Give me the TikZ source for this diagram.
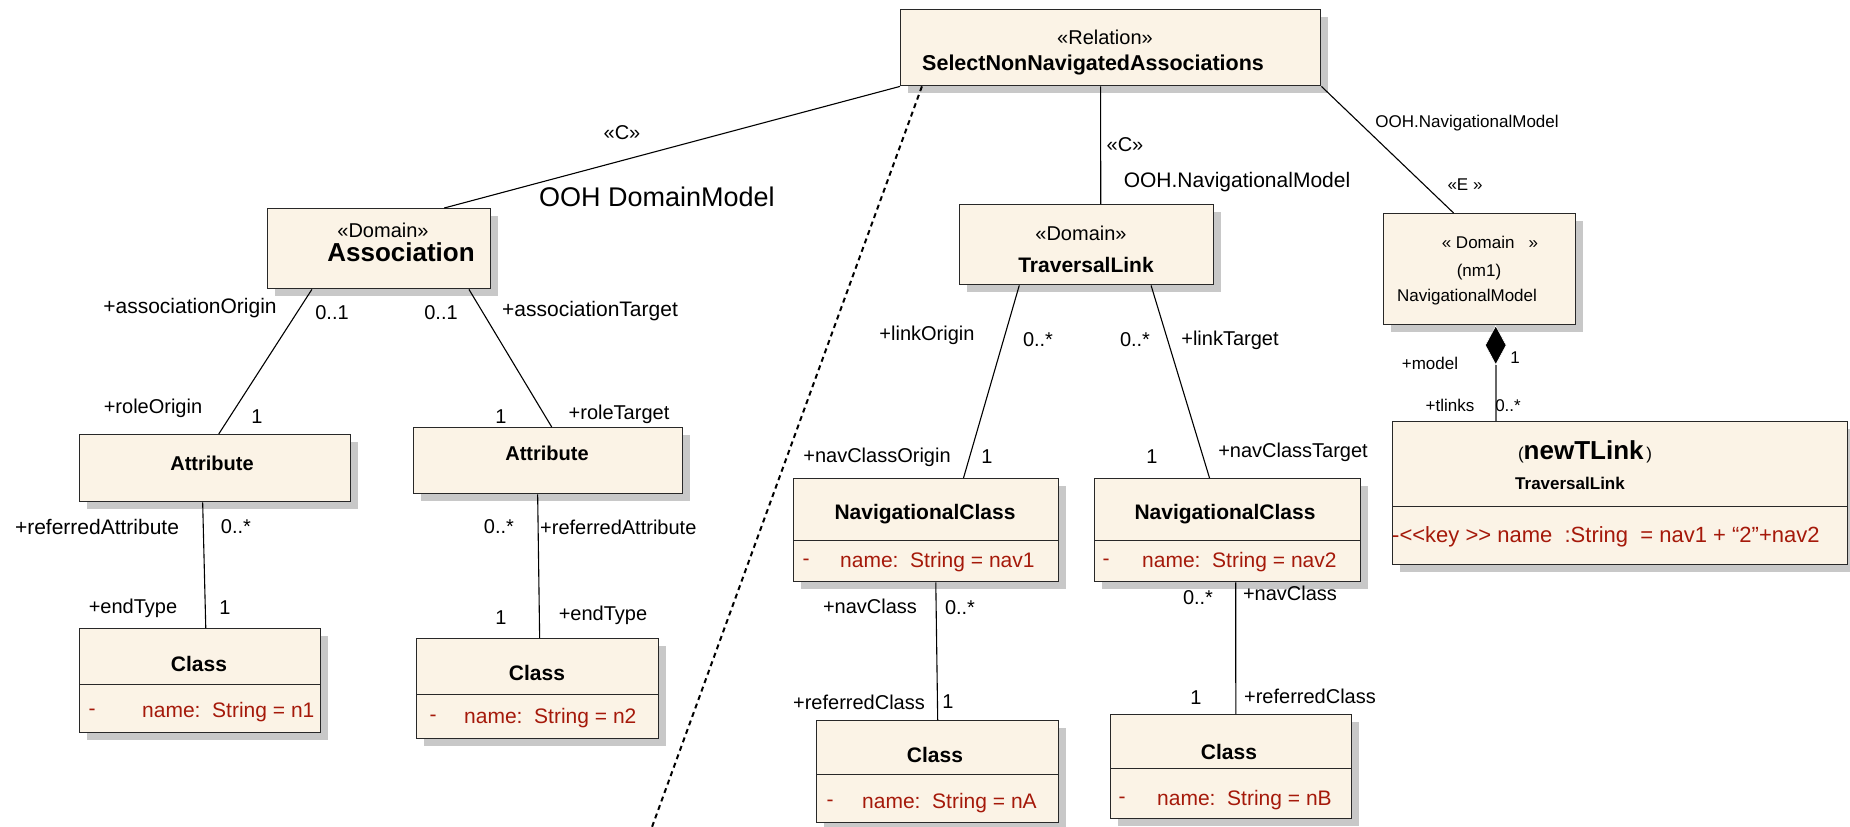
\documentclass[tikz,border=0pt]{standalone}
\usepackage{fontspec}
\setmainfont{Liberation Sans}
\usetikzlibrary{calc,shapes.geometric,shadows}
\definecolor{boxfill}{RGB}{251,243,230}
\definecolor{shade}{RGB}{200,200,200}
\definecolor{attrred}{RGB}{165,25,10}
\definecolor{edgecol}{RGB}{40,40,40}
\newcommand{\fs}[1]{\fontsize{#1}{#1}\selectfont}
\tikzset{
  umlbox/.style={draw=edgecol, line width=1.4pt, fill=boxfill, inner sep=0pt, anchor=north west,
    drop shadow={shadow xshift=7pt, shadow yshift=-7pt, fill=shade, opacity=1}},
  divider/.style={draw=edgecol, line width=1pt},
  conn/.style={draw=black, line width=1.1pt},
  lbl/.style={inner sep=0pt, font=\fs{20}},
  slbl/.style={inner sep=0pt, font=\fs{17}},
  ttl/.style={inner sep=0pt, font=\bfseries\fs{21}},
  stereo/.style={inner sep=0pt, font=\fs{20}},
  attrtext/.style={inner sep=0pt, font=\fs{21}, text=attrred},
  attrw/.style={inner sep=0pt, font=\fs{21}, text=attrred, anchor=west},
  dashconn/.style={draw=black, line width=2pt, dash pattern=on 5pt off 4pt},
}
\begin{document}
\begin{tikzpicture}[x=1pt,y=-1pt]
\useasboundingbox (0,0) rectangle (1850,827);

% ---------- boxes ----------
\node[umlbox, minimum width=420pt, minimum height=76pt] (rel) at (900,9) {};
\node[umlbox, minimum width=223pt, minimum height=80pt] (assoc) at (267,208) {};
\node[umlbox, minimum width=271pt, minimum height=67pt] (attrL) at (79,434) {};
\node[umlbox, minimum width=269pt, minimum height=66pt] (attrR) at (413,427) {};
\node[umlbox, minimum width=241pt, minimum height=104pt] (clsL) at (79,628) {};
\node[umlbox, minimum width=242pt, minimum height=100pt] (clsR) at (416,638) {};
\node[umlbox, minimum width=254pt, minimum height=80pt] (tl) at (959,204) {};
\node[umlbox, minimum width=265pt, minimum height=103pt] (ncL) at (793,478) {};
\node[umlbox, minimum width=266pt, minimum height=103pt] (ncR) at (1094,478) {};
\node[umlbox, minimum width=242pt, minimum height=102pt] (clsA) at (816,720) {};
\node[umlbox, minimum width=241pt, minimum height=104pt] (clsB) at (1110,714) {};
\node[umlbox, minimum width=192pt, minimum height=111pt] (nm) at (1383,213) {};
\node[umlbox, minimum width=455pt, minimum height=143pt] (newT) at (1392,421) {};

% dividers
\draw[divider] (clsL.west |- 0,684) -- (clsL.east |- 0,684);
\draw[divider] (clsR.west |- 0,694) -- (clsR.east |- 0,694);
\draw[divider] (ncL.west |- 0,540) -- (ncL.east |- 0,540);
\draw[divider] (ncR.west |- 0,540) -- (ncR.east |- 0,540);
\draw[divider] (clsA.west |- 0,774) -- (clsA.east |- 0,774);
\draw[divider] (clsB.west |- 0,768) -- (clsB.east |- 0,768);
\draw[divider] (newT.west |- 0,506) -- (newT.east |- 0,506);

% ---------- box texts ----------
\node[stereo] (relS) at (1105,37) {«Relation»};
\node[inner sep=0pt, font=\bfseries\fs{21.5}, anchor=west] (relN) at (922,65) {SelectNonNavigatedAssociations};
\node[stereo] (assocS) at (383,230) {«Domain»};
\node[inner sep=0pt, font=\bfseries\fs{26}] (assocN) at (401,252) {Association};
\node[inner sep=0pt, font=\bfseries\fs{20}] (attrLN) at (212,463) {Attribute};
\node[inner sep=0pt, font=\bfseries\fs{20}] (attrRN) at (547,453) {Attribute};
\node[ttl] (clsLN) at (199,664) {Class};
\node[attrtext] (clsLd) at (92,712) {-};
\node[attrw] (clsLa) at (142,712) {name:\ \ String = n1};
\node[ttl] (clsRN) at (537,673) {Class};
\node[attrtext] (clsRd) at (433,718) {-};
\node[attrw] (clsRa) at (464,718) {name:\ \ String = n2};
\node[stereo] (tlS) at (1081,233) {«Domain»};
\node[ttl] (tlN) at (1086,265) {TraversalLink};
\node[ttl] (ncLN) at (925,514) {NavigationalClass};
\node[attrtext] (ncLd) at (806,562) {-};
\node[attrw] (ncLa) at (840,562) {name:\ \ String = nav1};
\node[ttl] (ncRN) at (1225,514) {NavigationalClass};
\node[attrtext] (ncRd) at (1106,562) {-};
\node[attrw] (ncRa) at (1142,562) {name:\ \ String = nav2};
\node[ttl] (clsAN) at (935,755) {Class};
\node[attrtext] (clsAd) at (830,803) {-};
\node[attrw] (clsAa) at (862,803) {name:\ \ String = nA};
\node[ttl] (clsBN) at (1229,752) {Class};
\node[attrtext] (clsBd) at (1122,800) {-};
\node[attrw] (clsBa) at (1157,800) {name:\ \ String = nB};
\node[slbl] (nmS) at (1490,242) {« Domain \ \ »};
\node[slbl] (nmI) at (1479,272) {(nm1)};
\node[slbl] (nmN) at (1467,297) {NavigationalModel};
\node[inner sep=0pt] (newTN) at (1585,452) {{\fs{17}(}{\bfseries\fs{26}newTLink}\ {\fs{17})}};
\node[inner sep=0pt, font=\bfseries\fs{17}] (newTT) at (1570,483) {TraversalLink};
\node[inner sep=0pt, font=\fs{22}, text=attrred, anchor=west] (newTa) at (1392,537) {-{<}{<}key {>}{>} name \ :String \ = nav1 + “2”+nav2};

% ---------- connectors ----------
\draw[conn] (rel.south west) -- ($(assoc.north west)!0.79!(assoc.north east)$);
\coordinate (dashEnd) at (652,827);
\draw[dashconn] ($(rel.south west)!0.052!(rel.south east)$) -- (dashEnd);
\draw[conn] ($(rel.south west)!0.476!(rel.south east)$) -- ($(tl.north west)!0.555!(tl.north east)$);
\draw[conn] (rel.south east) -- ($(nm.north west)!0.365!(nm.north east)$);
\draw[conn] ($(assoc.south west)!0.2!(assoc.south east)$) -- ($(attrL.north west)!0.513!(attrL.north east)$);
\draw[conn] ($(assoc.south west)!0.9!(assoc.south east)$) -- ($(attrR.north west)!0.513!(attrR.north east)$);
\draw[conn] ($(attrL.south west)!0.454!(attrL.south east)$) -- ($(clsL.north west)!0.523!(clsL.north east)$);
\draw[conn] ($(attrR.south west)!0.461!(attrR.south east)$) -- ($(clsR.north west)!0.508!(clsR.north east)$);
\draw[conn] ($(tl.south west)!0.236!(tl.south east)$) -- ($(ncL.north west)!0.64!(ncL.north east)$);
\draw[conn] ($(tl.south west)!0.752!(tl.south east)$) -- ($(ncR.north west)!0.432!(ncR.north east)$);
\draw[conn] ($(ncL.south west)!0.536!(ncL.south east)$) -- ($(clsA.north west)!0.5!(clsA.north east)$);
\draw[conn] ($(ncR.south west)!0.53!(ncR.south east)$) -- ($(clsB.north west)!0.519!(clsB.north east)$);
\coordinate (diamTop) at ($(nm.south west)!0.583!(nm.south east)$);
\node[diamond, fill=black, draw=white, line width=0.6pt, inner sep=0pt, minimum width=21pt, minimum height=39pt, anchor=north] (diam) at (diamTop) {};
\draw[draw=black!60, line width=1.6pt] (diam.south) -- (diam.south |- newT.north);

% ---------- labels ----------
\node[lbl] (l1) at (622,133) {«C»};
\node[inner sep=0pt, font=\fs{27}] (l2) at (657,197) {OOH DomainModel};
\node[lbl] (l3) at (1125,145) {«C»};
\node[inner sep=0pt, font=\fs{21}] (l4) at (1237,182) {OOH.NavigationalModel};
\node[slbl] (l5) at (1467,123) {OOH.NavigationalModel};
\node[slbl] (l6) at (1465,185) {«E »};

\node[inner sep=0pt, font=\fs{21}] (a1) at (190,308) {+associationOrigin};
\node[lbl] (a2) at (332,313) {0..1};
\node[lbl] (a3) at (441,313) {0..1};
\node[inner sep=0pt, font=\fs{21}] (a4) at (590,311) {+associationTarget};
\node[lbl] (a5) at (153,408) {+roleOrigin};
\node[lbl] (a6) at (257,417) {1};
\node[lbl] (a7) at (501,417) {1};
\node[lbl] (a8) at (619,414) {+roleTarget};
\node[inner sep=0pt, font=\fs{21}] (a9) at (97,527) {+referredAttribute};
\node[lbl] (a10) at (236,527) {0..*};
\node[lbl] (a11) at (499,527) {0..*};
\node[lbl, anchor=west] (a12) at (540,527) {+referredAttribute};
\node[lbl] (a13) at (133,608) {+endType};
\node[lbl] (a14) at (225,608) {1};
\node[lbl] (a15) at (501,618) {1};
\node[lbl] (a16) at (603,615) {+endType};

\node[lbl] (b1) at (927,335) {+linkOrigin};
\node[lbl] (b2) at (1038,340) {0..*};
\node[lbl] (b3) at (1135,340) {0..*};
\node[lbl] (b4) at (1230,340) {+linkTarget};
\node[lbl] (b5) at (877,457) {+navClassOrigin};
\node[lbl] (b6) at (987,457) {1};
\node[lbl] (b7) at (1152,457) {1};
\node[lbl] (b8) at (1293,452) {+navClassTarget};
\node[lbl] (b9) at (870,606) {+navClass};
\node[lbl] (b10) at (960,608) {0..*};
\node[lbl] (b11) at (859,702) {+referredClass};
\node[lbl] (b12) at (948,702) {1};
\node[lbl] (b13) at (1198,598) {0..*};
\node[lbl] (b14) at (1290,593) {+navClass};
\node[lbl] (b15) at (1196,698) {1};
\node[lbl] (b16) at (1310,696) {+referredClass};

\node[slbl] (c1) at (1430,363) {+model};
\node[slbl] (c2) at (1515,358) {1};
\node[slbl] (c3) at (1450,405) {+tlinks};
\node[slbl] (c4) at (1508,406) {0..*};
\end{tikzpicture}
\end{document}
